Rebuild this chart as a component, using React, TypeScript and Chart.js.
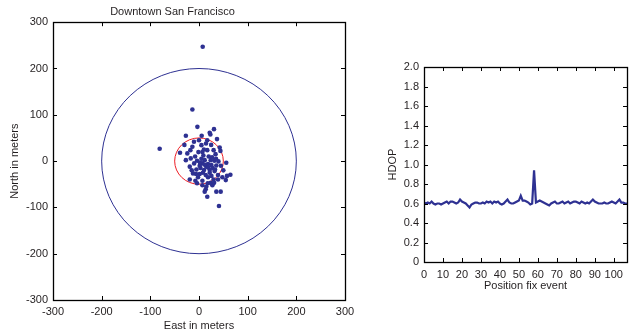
import React, { useEffect, useRef } from "react";
import { Chart, registerables } from "chart.js";

Chart.register(...registerables);

// ---------- Data ----------
const SCATTER_X = [
  7.6, -13.6, -3.3, 30.8, -27, 5.5, 23.4, 22, 37, -10.3, 17, 14.4, -80.8, -13.6, 5, 42.5, 44,
  -17.7, -1.2, 7, 17, 30, -39, -24, 34, -17, -27, -4, 11.7, 24, 31.6, 40, 56, 7, 18.5, 1.4, 15,
  25.5, 35.6, -19, -5.3, 10.3, 22, 32, -12.3, 1.4, 13.8, 25.5, 39, 64.5, 57.5, -19, -7.4, 7,
  18.5, 55, -4, 7, 27.5, 39, 13.8, 11.7, 35.6, 44.6, 17, 41,
  -8, 5, 20, 28, 8, -2, 18, 30, 45, 50, -10, 3, 12, 35, 22, -15, 0, -30, 25, 10, 15, 48, 24, 31,
  2, 9, 27, -6, 19, 33,
];
const SCATTER_Y = [
  247, 111.6, 74, 69, 54.6, 54.6, 57.6, 61, 47.5, 41.7, 45, 38, 26.6, 31, 34.5, 29.5, 22,
  23.7, 19.4, 19.4, 23.7, 23.7, 18, 16.6, 15, 5.8, 2, 0.7, 2, 2, 0.7, -0.7, -3.6, -5, -6.5, -10, -12,
  -8.6, -9.4, -12, -18, -19.4, -19.4, -21.6, -26.6, -28, -30, -32, -30, -29.5, -32, -39.6, -42.5, -42.5,
  -35, -41, -48, -52, -52, -39.6, -61, -66, -66, -66, -77, -97,
  10, 5, 10, -15, -25, -35, -48, -40, -10, -20, -5, -15, -8, 5, -25, -20, 45, 35, 35, 25, -55, -35, -47, -47,
  -3, 12, 8, -28, -14, -18,
];
const CIRCLE_RADII = [200, 50];
const CIRCLE_COLORS = ["#2e3192", "#ed1c24"];

const HDOP = [
  0.61, 0.60, 0.61, 0.60, 0.62, 0.60, 0.59, 0.60, 0.60, 0.59,
  0.60, 0.61, 0.62, 0.60, 0.62, 0.62, 0.61, 0.60, 0.61, 0.64,
  0.62, 0.61, 0.60, 0.58, 0.56, 0.59, 0.60, 0.61, 0.61, 0.60,
  0.60, 0.61, 0.60, 0.62, 0.61, 0.62, 0.60, 0.62, 0.61, 0.62,
  0.60, 0.59, 0.60, 0.62, 0.64, 0.61, 0.60, 0.60, 0.61, 0.62,
  0.63, 0.68, 0.63, 0.63, 0.62, 0.61, 0.59, 0.60, 0.94, 0.61,
  0.62, 0.63, 0.62, 0.61, 0.60, 0.59, 0.58, 0.60, 0.61, 0.62,
  0.60, 0.60, 0.61, 0.62, 0.60, 0.61, 0.62, 0.60, 0.61, 0.62,
  0.62, 0.61, 0.60, 0.62, 0.61, 0.60, 0.61, 0.60, 0.62, 0.64,
  0.62, 0.61, 0.60, 0.60, 0.60, 0.61, 0.60, 0.60, 0.61, 0.62,
  0.61, 0.60, 0.62, 0.64, 0.61, 0.61, 0.60, 0.60,
];

const FONT = { family: "'Liberation Sans', Arial, sans-serif", size: 11 };
const TEXT = "#231f20";
const BLUE = "#2e3192";

const boxTicks = {
  id: "boxTicks",
  afterDraw(chart: any) {
    const { ctx, chartArea: a, scales } = chart;
    const L = 4;
    ctx.save();
    ctx.strokeStyle = "#000";
    ctx.lineWidth = 1;
    ctx.beginPath();
    scales.x.ticks.forEach((t: any) => {
      const px = Math.round(scales.x.getPixelForValue(t.value)) + 0.5;
      ctx.moveTo(px, a.bottom);
      ctx.lineTo(px, a.bottom - L);
      ctx.moveTo(px, a.top);
      ctx.lineTo(px, a.top + L);
    });
    scales.y.ticks.forEach((t: any) => {
      const py = Math.round(scales.y.getPixelForValue(t.value)) + 0.5;
      ctx.moveTo(a.left, py);
      ctx.lineTo(a.left + L, py);
      ctx.moveTo(a.right, py);
      ctx.lineTo(a.right - L, py);
    });
    ctx.stroke();
    ctx.lineWidth = 1.3;
    ctx.strokeRect(Math.round(a.left) + 0.5, Math.round(a.top) + 0.5, Math.round(a.right - a.left), Math.round(a.bottom - a.top));
    ctx.restore();
  },
};

const circles = {
  id: "circles",
  beforeDatasetsDraw(chart: any) {
    const { ctx, scales } = chart;
    const cx = scales.x.getPixelForValue(0);
    const cy = scales.y.getPixelForValue(0);
    ctx.save();
    CIRCLE_RADII.forEach((r, i) => {
      const rx = Math.abs(scales.x.getPixelForValue(r) - cx);
      const ry = Math.abs(scales.y.getPixelForValue(r) - cy);
      ctx.beginPath();
      ctx.strokeStyle = CIRCLE_COLORS[i];
      ctx.lineWidth = 1;
      ctx.ellipse(cx, cy, rx, ry, 0, 0, Math.PI * 2);
      ctx.stroke();
    });
    ctx.restore();
  },
};

export default function App() {
  const ref1 = useRef<HTMLCanvasElement>(null);
  const ref2 = useRef<HTMLCanvasElement>(null);

  useEffect(() => {
    const c1 = new Chart(ref1.current!, {
      type: "scatter",
      data: {
        datasets: [
          {
            data: SCATTER_X.map((x, i) => ({ x, y: SCATTER_Y[i] })),
            backgroundColor: BLUE,
            borderWidth: 0,
            pointRadius: 2.3,
          },
        ],
      },
      options: {
        responsive: false,
        animation: false,
        layout: { padding: { left: 0, right: 15, top: 0, bottom: 0 } },
        plugins: {
          legend: { display: false },
          tooltip: { enabled: false },
          title: {
            display: true,
            text: "Downtown San Francisco",
            font: { ...FONT, weight: "normal" },
            color: TEXT,
            padding: { top: 5, bottom: 4 },
          },
        },
        scales: {
          x: {
            type: "linear",
            min: -300,
            max: 300,
            ticks: { stepSize: 100, padding: 5, font: FONT, color: TEXT, maxRotation: 0 },
            grid: { display: false, drawTicks: false },
            border: { display: false },
            title: { display: true, text: "East in meters", font: FONT, color: TEXT, padding: { top: 0, bottom: 0 } },
            afterFit: (s: any) => { s.height = 33; },
          },
          y: {
            type: "linear",
            min: -300,
            max: 300,
            ticks: { stepSize: 100, padding: 5, font: FONT, color: TEXT },
            grid: { display: false, drawTicks: false },
            border: { display: false },
            title: { display: true, text: "North in meters", font: FONT, color: TEXT, padding: { top: 8, bottom: 0 } },
            afterFit: (s: any) => { s.width = 53; },
          },
        },
      } as any,
      plugins: [circles, boxTicks],
    });

    const c2 = new Chart(ref2.current!, {
      type: "line",
      data: {
        datasets: [
          {
            data: HDOP.map((y, i) => ({ x: i, y })),
            borderColor: BLUE,
            borderWidth: 2.2,
            pointRadius: 0,
            tension: 0,
            fill: false,
          },
        ],
      },
      options: {
        responsive: false,
        animation: false,
        layout: { padding: { left: 0, right: 1, top: 67, bottom: 40 } },
        plugins: { legend: { display: false }, tooltip: { enabled: false } },
        scales: {
          x: {
            type: "linear",
            min: 0,
            max: 107,
            ticks: { stepSize: 10, padding: 6, font: FONT, color: TEXT, maxRotation: 0, includeBounds: false, autoSkip: false },
            afterBuildTicks: (s: any) => { s.ticks = s.ticks.filter((t: any) => t.value % 10 === 0); },
            grid: { display: false, drawTicks: false },
            border: { display: false },
            title: { display: true, text: "Position fix event", font: FONT, color: TEXT, padding: { top: 0, bottom: 0 } },
            afterFit: (s: any) => { s.height = 31; },
          },
          y: {
            type: "linear",
            min: 0,
            max: 2,
            ticks: {
              stepSize: 0.2,
              padding: 5,
              font: FONT,
              color: TEXT,
              autoSkip: false,
              callback: (v: any) => (Math.abs(v) < 1e-9 ? "0" : Number(v).toFixed(1)),
            },
            grid: { display: false, drawTicks: false },
            border: { display: false },
            title: { display: true, text: "HDOP", font: FONT, color: TEXT, padding: { top: 6, bottom: 0 } },
            afterFit: (s: any) => { s.width = 44; },
          },
        },
      } as any,
      plugins: [boxTicks],
    });

    return () => {
      c1.destroy();
      c2.destroy();
    };
  }, []);

  return (
    <div style={{ position: "fixed", left: 0, top: 0, width: 629, height: 333, background: "#fff" }}>
      <canvas ref={ref1} width={360} height={333} style={{ position: "absolute", left: 0, top: 0 }} />
      <canvas ref={ref2} width={249} height={333} style={{ position: "absolute", left: 380, top: 0 }} />
    </div>
  );
}
